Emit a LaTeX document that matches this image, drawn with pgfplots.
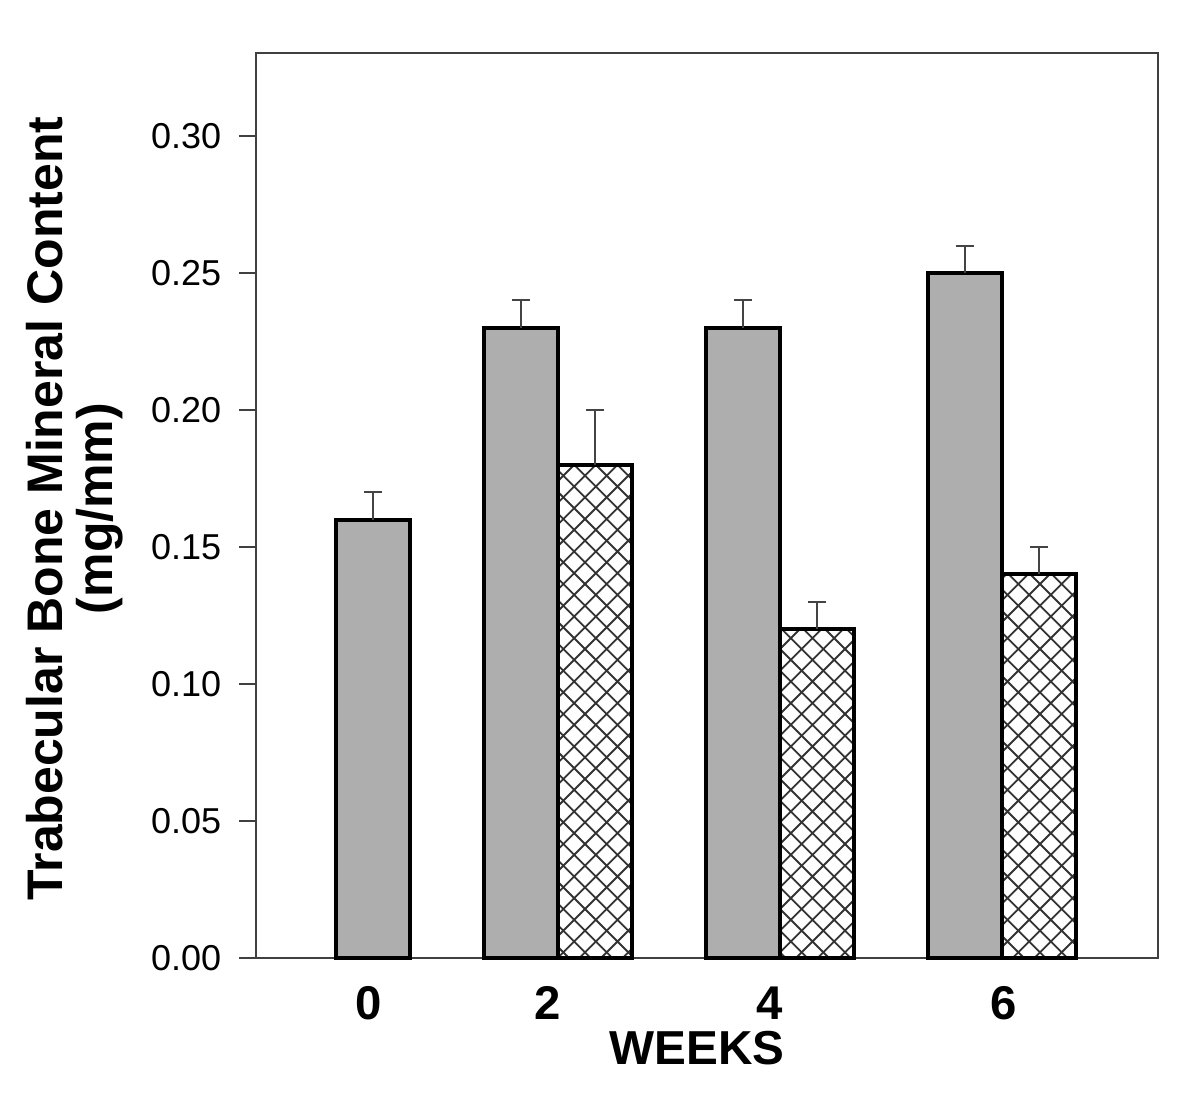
\documentclass[border=0pt]{standalone}
\usepackage{pgfplots}
\pgfplotsset{compat=1.18}
\usepackage{fontspec}
\setmainfont{Liberation Sans}
\usetikzlibrary{patterns}
\definecolor{bargray}{HTML}{AEAEAE}
\definecolor{errgray}{HTML}{444444}
\pgfdeclarepatternformonly{diamondhatch}{\pgfqpoint{-0.5pt}{-0.5pt}}{\pgfqpoint{7pt}{7pt}}{\pgfqpoint{6.5pt}{6.5pt}}{%
  \pgfsetlinewidth{0.55pt}%
  \pgfpathmoveto{\pgfqpoint{-0.1pt}{-0.1pt}}\pgfpathlineto{\pgfqpoint{6.6pt}{6.6pt}}%
  \pgfpathmoveto{\pgfqpoint{-0.1pt}{6.6pt}}\pgfpathlineto{\pgfqpoint{6.6pt}{-0.1pt}}%
  \pgfusepath{stroke}}
\begin{document}
\begin{tikzpicture}
\begin{axis}[
  scale only axis,
  width=270.6pt, height=271.5pt,
  xmin=256, xmax=1158,
  ymin=0, ymax=0.3303,
  axis line style={draw=black!75, line width=0.6pt},
  xtick={369,548,770,1004},
  xticklabels={0,2,4,6},
  xtick style={draw=none},
  xticklabel style={font=\bfseries\fontsize{14.2}{15}\selectfont, anchor=center, yshift=-8.4pt},
  ytick={0,0.05,0.10,0.15,0.20,0.25,0.30},
  ytick pos=left,
  tick align=outside,
  major tick length=5.1pt,
  ytick style={draw=black!75, line width=0.6pt},
  yticklabel style={font=\fontsize{10.8}{12}\selectfont, xshift=-1.8pt, /pgf/number format/fixed, /pgf/number format/fixed zerofill, /pgf/number format/precision=2, /pgf/number format/assume math mode=true},
  scaled y ticks=false,
  ylabel={Trabecular Bone Mineral Content\\(mg/mm)},
  ylabel style={align=center, font=\bfseries\fontsize{15}{15}\selectfont, at={(axis description cs:-0.2007,0.4967)}, anchor=center},
  xlabel={WEEKS},
  xlabel style={font=\bfseries\fontsize{14.3}{15}\selectfont, at={(axis description cs:0.489,-0.0994)}, anchor=center},
  clip=false,
]
\addplot[ybar, bar width=74, bar shift=0pt, fill=bargray, draw=black, line width=1.2pt,
  error bars/.cd, y dir=plus, y explicit,
  error bar style={line width=0.6pt, draw=errgray},
  error mark options={rotate=90, mark size=2.7pt, line width=0.6pt, draw=errgray}]
  coordinates {(373.5,0.16) +- (0,0.01) (521.5,0.23) +- (0,0.01) (743,0.23) +- (0,0.01) (965,0.25) +- (0,0.01)};
\addplot[ybar, bar width=74, bar shift=0pt, pattern=diamondhatch, pattern color=black!80, draw=black, line width=1.2pt,
  error bars/.cd, y dir=plus, y explicit,
  error bar style={line width=0.6pt, draw=errgray},
  error mark options={rotate=90, mark size=2.7pt, line width=0.6pt, draw=errgray}]
  coordinates {(595,0.18) +- (0,0.02) (817,0.12) +- (0,0.01) (1039.5,0.14) +- (0,0.01)};
\coordinate (bbA) at (rel axis cs:-0.2838,-0.1613);
\coordinate (bbB) at (rel axis cs:1.0466,1.0586);
\end{axis}
\path (bbA) rectangle (bbB);
\end{tikzpicture}
\end{document}
